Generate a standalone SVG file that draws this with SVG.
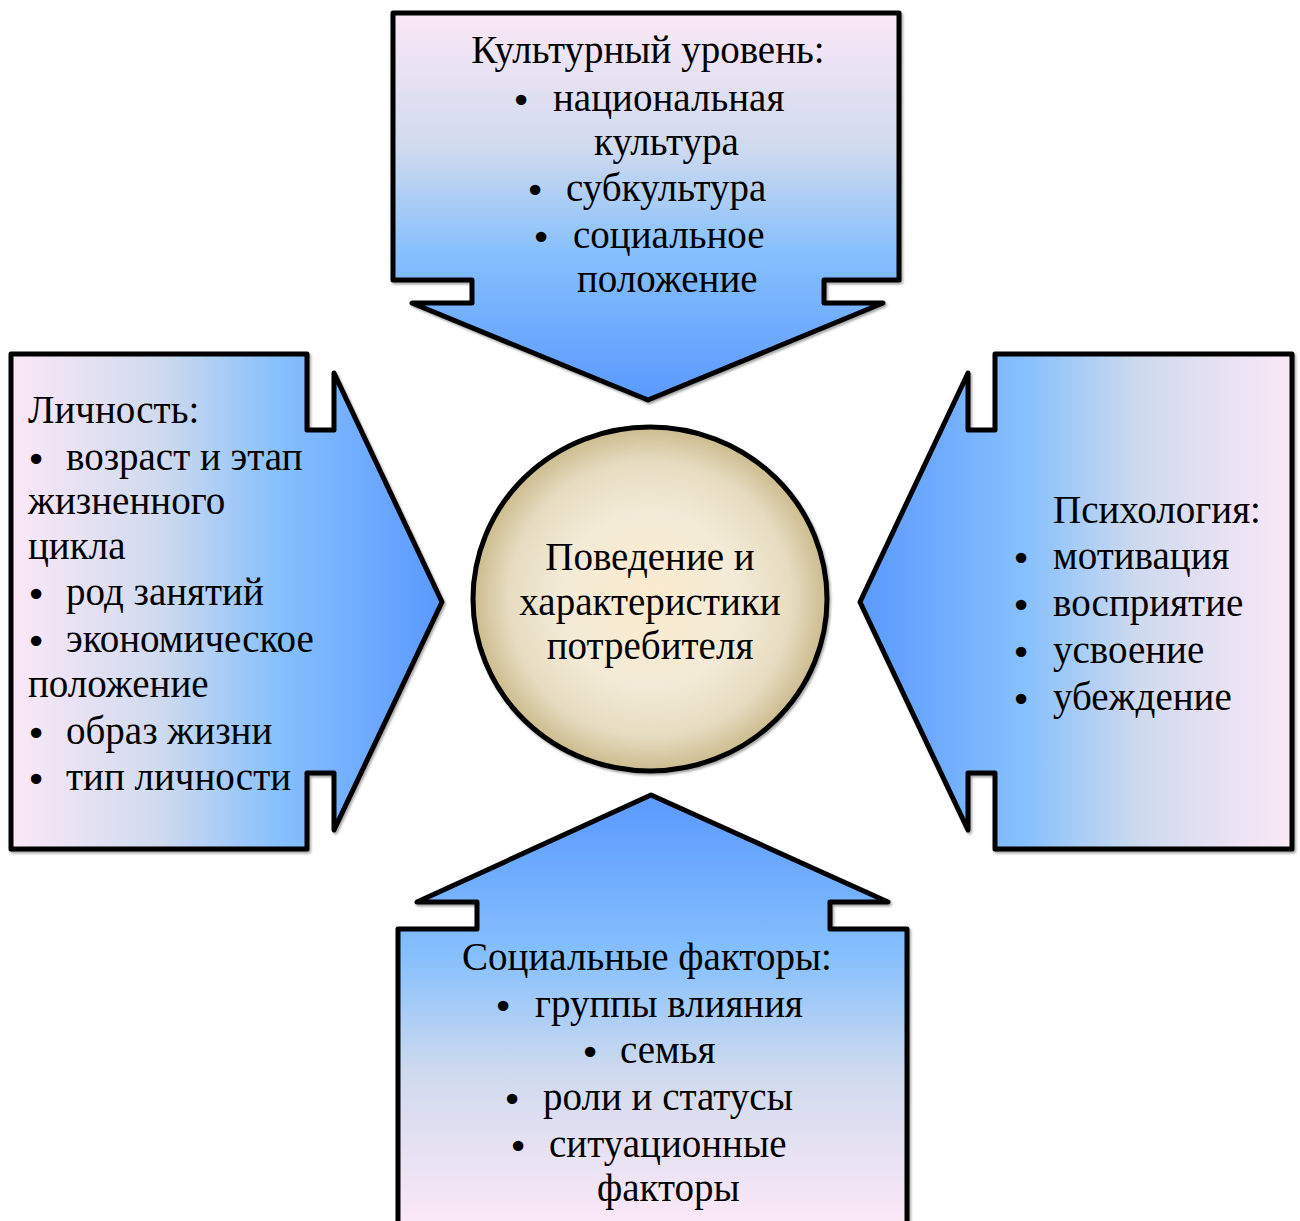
<svg xmlns="http://www.w3.org/2000/svg" width="1300" height="1221" viewBox="0 0 1300 1221">
<style>
.shape{stroke:#000;stroke-width:5;stroke-linejoin:round;filter:url(#sh)}
text{font-family:"Liberation Serif","Times New Roman",serif;font-size:39px;fill:#000}
.c{text-anchor:middle}
.b{font-family:"DejaVu Sans",sans-serif;font-size:36px;text-anchor:middle}
</style>
<defs>
<filter id="sh" x="-5%" y="-5%" width="110%" height="110%">
<feDropShadow dx="1.5" dy="2" stdDeviation="1.2" flood-color="#000" flood-opacity="0.35"/>
</filter>
<linearGradient id="gTop" gradientUnits="userSpaceOnUse" x1="0" y1="13" x2="0" y2="400">
<stop offset="0" stop-color="#fbe8f7"/><stop offset="0.35" stop-color="#cfdaee"/><stop offset="0.62" stop-color="#86c0fd"/><stop offset="1" stop-color="#5a99ff"/>
</linearGradient>
<linearGradient id="gLeft" gradientUnits="userSpaceOnUse" x1="11" y1="0" x2="442" y2="0">
<stop offset="0" stop-color="#fbe8f7"/><stop offset="0.35" stop-color="#cfdaee"/><stop offset="0.62" stop-color="#86c0fd"/><stop offset="1" stop-color="#5a99ff"/>
</linearGradient>
<linearGradient id="gRight" gradientUnits="userSpaceOnUse" x1="1292" y1="0" x2="860" y2="0">
<stop offset="0" stop-color="#fbe8f7"/><stop offset="0.35" stop-color="#cfdaee"/><stop offset="0.62" stop-color="#86c0fd"/><stop offset="1" stop-color="#5a99ff"/>
</linearGradient>
<linearGradient id="gBottom" gradientUnits="userSpaceOnUse" x1="0" y1="1221" x2="0" y2="795">
<stop offset="0" stop-color="#fbe8f7"/><stop offset="0.35" stop-color="#cfdaee"/><stop offset="0.62" stop-color="#86c0fd"/><stop offset="1" stop-color="#5a99ff"/>
</linearGradient>
<radialGradient id="gCircle" cx="0.5" cy="0.5" r="0.5">
<stop offset="0" stop-color="#fcebcd"/><stop offset="0.5" stop-color="#f3ebd7"/><stop offset="0.8" stop-color="#e6dcc0"/><stop offset="1" stop-color="#cbbb8e"/>
</radialGradient>
</defs>
<g id="connectors"></g>
<g id="node-top">
<path class="shape" fill="url(#gTop)" d="M393,13 H899 V280 H824 V303 H883 L648,400 L412,303 H472 V280 H393 Z"/>
<text x="648" y="63" class="c">Культурный уровень:</text>
<text x="521" y="113" class="b">•</text><text x="553" y="111">национальная</text>
<text x="594" y="155">культура</text>
<text x="535" y="203" class="b">•</text><text x="566" y="201">субкультура</text>
<text x="541" y="250" class="b">•</text><text x="573" y="248">социальное</text>
<text x="577" y="292">положение</text>
</g>
<g id="node-left">
<path class="shape" fill="url(#gLeft)" d="M11,354 H307 V430 H334 V373 L442,602 L334,830 V773 H307 V849 H11 Z"/>
<text x="28" y="423">Личность:</text>
<text x="36" y="472" class="b">•</text><text x="66" y="470">возраст и этап</text>
<text x="28" y="514">жизненного</text>
<text x="28" y="559">цикла</text>
<text x="36" y="607" class="b">•</text><text x="66" y="605">род занятий</text>
<text x="36" y="654" class="b">•</text><text x="66" y="652">экономическое</text>
<text x="28" y="697">положение</text>
<text x="36" y="746" class="b">•</text><text x="66" y="744">образ жизни</text>
<text x="36" y="792" class="b">•</text><text x="66" y="790">тип личности</text>
</g>
<g id="node-right">
<path class="shape" fill="url(#gRight)" d="M1292,354 H995 V430 H968 V373 L860,602 L968,830 V773 H995 V849 H1292 Z"/>
<text x="1053" y="523">Психология:</text>
<text x="1021" y="571" class="b">•</text><text x="1053" y="569">мотивация</text>
<text x="1021" y="618" class="b">•</text><text x="1053" y="616">восприятие</text>
<text x="1021" y="665" class="b">•</text><text x="1053" y="663">усвоение</text>
<text x="1021" y="712" class="b">•</text><text x="1053" y="710">убеждение</text>
</g>
<g id="node-bottom">
<path class="shape" fill="url(#gBottom)" d="M651,795 L888,902 H830 V929 H907 V1240 H398 V929 H477 V902 H417 Z"/>
<text x="647" y="970" class="c">Социальные факторы:</text>
<text x="503" y="1019" class="b">•</text><text x="535" y="1017">группы влияния</text>
<text x="590" y="1065" class="b">•</text><text x="620" y="1063">семья</text>
<text x="512" y="1112" class="b">•</text><text x="543" y="1110">роли и статусы</text>
<text x="518" y="1159" class="b">•</text><text x="549" y="1157">ситуационные</text>
<text x="597" y="1201">факторы</text>
</g>
<g id="node-center">
<ellipse class="shape" fill="url(#gCircle)" cx="650" cy="599" rx="177" ry="172"/>
<text x="650" y="570" class="c">Поведение и</text>
<text x="650" y="615" class="c">характеристики</text>
<text x="650" y="659" class="c">потребителя</text>
</g>
</svg>
